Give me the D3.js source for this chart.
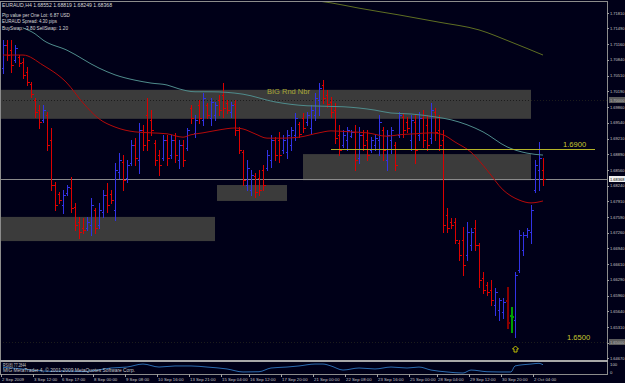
<!DOCTYPE html>
<html>
<head>
<meta charset="utf-8">
<script src="https://cdn.jsdelivr.net/npm/d3@7"></script>
<style>
  body { margin: 0; background: #000018; }
  svg { display: block; }
  text { font-family: "Liberation Sans", Arial, sans-serif; }
</style>
</head>
<body>
<svg id="chart" width="625" height="383"></svg>
<script>
// EURAUD H4, one entry per bar (bar index 0..135)
const barOpen = [
  1.7067, 1.7115, 1.7104, 1.7084, 1.7090, 1.7080, 1.7059, 1.7034, 1.7001, 1.6980,
  1.6960, 1.6970, 1.6918, 1.6825, 1.6806, 1.6784, 1.6808, 1.6819, 1.6779, 1.6748,
  1.6736, 1.6736, 1.6742, 1.6773, 1.6742, 1.6769, 1.6804, 1.6806, 1.6773, 1.6852,
  1.6873, 1.6839, 1.6871, 1.6908, 1.6877, 1.6939, 1.6970, 1.6960, 1.6912, 1.6887,
  1.6881, 1.6918, 1.6887, 1.6918, 1.6877, 1.6908, 1.6902, 1.6984, 1.6933, 1.6991,
  1.6960, 1.6991, 1.6964, 1.6970, 1.7001, 1.7011, 1.6995, 1.6976, 1.6993, 1.6939,
  1.6893, 1.6825, 1.6815, 1.6844, 1.6839, 1.6856, 1.6860, 1.6877, 1.6918, 1.6918,
  1.6897, 1.6893, 1.6908, 1.6928, 1.6951, 1.6964, 1.6955, 1.6943, 1.6970, 1.7001,
  1.7032, 1.7011, 1.6997, 1.6980, 1.6928, 1.6908, 1.6918, 1.6926, 1.6935, 1.6881,
  1.6928, 1.6918, 1.6897, 1.6908, 1.6918, 1.6939, 1.6877, 1.6918, 1.6908, 1.6928,
  1.6966, 1.6955, 1.6918, 1.6955, 1.6928, 1.6964, 1.6949, 1.6922, 1.6976, 1.6939,
  1.6918, 1.6763, 1.6748, 1.6748, 1.6705, 1.6711, 1.6680, 1.6701, 1.6736, 1.6701,
  1.6632, 1.6618, 1.6608, 1.6577, 1.6566, 1.6562, 1.6587, 1.6556, 1.6546, 1.6649,
  1.6690, 1.6721, 1.6728, 1.6815, 1.6856, 1.68552
];
const barHigh = [
  1.7125, 1.7125, 1.7125, 1.7115, 1.7094, 1.7088, 1.7069, 1.7038, 1.7005, 1.6991,
  1.6991, 1.6976, 1.6943, 1.6831, 1.6811, 1.6815, 1.6825, 1.6842, 1.6788, 1.6759,
  1.6757, 1.6759, 1.6798, 1.6777, 1.6788, 1.6815, 1.6829, 1.6815, 1.6871, 1.6891,
  1.6887, 1.6877, 1.6918, 1.6922, 1.6953, 1.6949, 1.7005, 1.6980, 1.6918, 1.6897,
  1.6928, 1.6928, 1.6928, 1.6933, 1.6918, 1.6918, 1.6943, 1.6991, 1.6970, 1.7001,
  1.7015, 1.6995, 1.7005, 1.6997, 1.7011, 1.7036, 1.7001, 1.6997, 1.7001, 1.6945,
  1.6897, 1.6877, 1.6856, 1.6850, 1.6856, 1.6866, 1.6897, 1.6928, 1.6924, 1.6935,
  1.6928, 1.6939, 1.6945, 1.6974, 1.6955, 1.6974, 1.6976, 1.6991, 1.7015, 1.7036,
  1.7042, 1.7022, 1.7007, 1.6995, 1.6949, 1.6939, 1.6945, 1.6939, 1.6949, 1.6945,
  1.6939, 1.6939, 1.6924, 1.6928, 1.6970, 1.6945, 1.6939, 1.6945, 1.6914, 1.6976,
  1.6974, 1.6966, 1.6970, 1.6970, 1.6976, 1.6980, 1.6970, 1.6995, 1.6984, 1.6970,
  1.6939, 1.6777, 1.6757, 1.6757, 1.6711, 1.6738, 1.6748, 1.6736, 1.6753, 1.6705,
  1.6645, 1.6624, 1.6628, 1.6612, 1.6591, 1.6591, 1.6614, 1.6572, 1.6645, 1.6732,
  1.6728, 1.6736, 1.6784, 1.6877, 1.6914, 1.68819
];
const barLow = [
  1.7057, 1.7084, 1.7059, 1.7080, 1.7071, 1.7046, 1.7032, 1.7007, 1.6966, 1.6943,
  1.6955, 1.6897, 1.6815, 1.6773, 1.6788, 1.6767, 1.6804, 1.6769, 1.6732, 1.6715,
  1.6726, 1.6732, 1.6721, 1.6726, 1.6736, 1.6759, 1.6769, 1.6788, 1.6753, 1.6839,
  1.6815, 1.6831, 1.6866, 1.6866, 1.6850, 1.6897, 1.6897, 1.6928, 1.6866, 1.6846,
  1.6877, 1.6866, 1.6881, 1.6873, 1.6860, 1.6864, 1.6897, 1.6953, 1.6924, 1.6953,
  1.6949, 1.6964, 1.6949, 1.6960, 1.6970, 1.6966, 1.6974, 1.6966, 1.6928, 1.6891,
  1.6825, 1.6815, 1.6804, 1.6800, 1.6804, 1.6815, 1.6856, 1.6862, 1.6877, 1.6873,
  1.6891, 1.6881, 1.6897, 1.6918, 1.6924, 1.6935, 1.6949, 1.6933, 1.6960, 1.6970,
  1.6995, 1.6986, 1.6966, 1.6912, 1.6887, 1.6904, 1.6897, 1.6924, 1.6856, 1.6871,
  1.6897, 1.6877, 1.6893, 1.6897, 1.6887, 1.6877, 1.6856, 1.6891, 1.6856, 1.6924,
  1.6924, 1.6935, 1.6897, 1.6871, 1.6918, 1.6904, 1.6897, 1.6912, 1.6918, 1.6897,
  1.6728, 1.6728, 1.6736, 1.6705, 1.6670, 1.6639, 1.6670, 1.6690, 1.6690, 1.6614,
  1.6601, 1.6597, 1.6577, 1.6556, 1.6546, 1.6550, 1.6529, 1.6521, 1.6510, 1.6645,
  1.6680, 1.6717, 1.6705, 1.6811, 1.6815, 1.68249
];
const barClose = [
  1.7115, 1.7094, 1.7073, 1.7109, 1.7078, 1.7053, 1.7038, 1.7013, 1.6976, 1.6955,
  1.6980, 1.6908, 1.6825, 1.6784, 1.6794, 1.6804, 1.6821, 1.6777, 1.6742, 1.6728,
  1.6732, 1.6748, 1.6784, 1.6736, 1.6773, 1.6804, 1.6784, 1.6794, 1.6856, 1.6877,
  1.6835, 1.6866, 1.6908, 1.6881, 1.6939, 1.6908, 1.6918, 1.6939, 1.6877, 1.6866,
  1.6918, 1.6881, 1.6918, 1.6887, 1.6908, 1.6877, 1.6939, 1.6964, 1.6960, 1.6964,
  1.7005, 1.6970, 1.6997, 1.6991, 1.6980, 1.6984, 1.6980, 1.6991, 1.6939, 1.6897,
  1.6835, 1.6860, 1.6846, 1.6811, 1.6815, 1.6825, 1.6887, 1.6918, 1.6887, 1.6887,
  1.6918, 1.6928, 1.6939, 1.6964, 1.6931, 1.6943, 1.6970, 1.6980, 1.7005, 1.7026,
  1.7005, 1.6993, 1.6976, 1.6922, 1.6897, 1.6928, 1.6939, 1.6935, 1.6877, 1.6928,
  1.6908, 1.6887, 1.6918, 1.6922, 1.6955, 1.6897, 1.6928, 1.6939, 1.6866, 1.6970,
  1.6939, 1.6943, 1.6960, 1.6897, 1.6964, 1.6918, 1.6908, 1.6980, 1.6935, 1.6908,
  1.6742, 1.6736, 1.6742, 1.6711, 1.6680, 1.6659, 1.6728, 1.6728, 1.6701, 1.6628,
  1.6608, 1.6604, 1.6587, 1.6604, 1.6587, 1.6583, 1.6541, 1.6554, 1.6639, 1.6721,
  1.6721, 1.6732, 1.6773, 1.6866, 1.6881, 1.68368
];

// moving averages, [bar index, price]
const maFast = [[0,1.7094],[5,1.7094],[10,1.7073],[16,1.7036],[20,1.6995],[24,1.6962],[28,1.6945],
  [33,1.6935],[37,1.6933],[41,1.6931],[45,1.6924],[47,1.6929],[50,1.6933],[54,1.6939],[58,1.6943],
  [60,1.6941],[63,1.6931],[66,1.6922],[70,1.6922],[74,1.6924],[79,1.6933],[82,1.6937],[87,1.6935],
  [91,1.6933],[96,1.6926],[99,1.6929],[103,1.6931],[107,1.6933],[110,1.6929],[113,1.6914],
  [117,1.6893],[121,1.6856],[125,1.6815],[129,1.6794],[132,1.6788],[135,1.6792]];
const maMid = [[5,1.7150],[8,1.7138],[10,1.7125],[16,1.7104],[24,1.7067],[28,1.7053],[33,1.7042],
  [37,1.7036],[41,1.7032],[44,1.7024],[48,1.7018],[52,1.7018],[60,1.7013],[68,1.6997],[76,1.6989],
  [85,1.6987],[93,1.6980],[97,1.6974],[102,1.6972],[108,1.6966],[112,1.6960],[120,1.6935],
  [126,1.6904],[131,1.6891],[135,1.6887]];
const maSlow = [[77,1.7208],[82,1.7202],[89,1.7191],[99,1.7177],[109,1.7162],[119,1.7146],
  [127,1.7121],[135,1.7094]];

// RSI(8), [bar index, value]
const rsi = [[0,55],[4,45],[8,30],[12,22],[16,25],[20,20],[24,35],[27,50],[31,58],[35,83],[39,58],
  [43,67],[47,67],[51,58],[56,42],[60,17],[64,19],[67,50],[71,58],[74,67],[78,83],[80,83],[82,67],
  [85,33],[89,50],[93,42],[97,58],[101,50],[104,58],[107,33],[111,17],[115,8],[117,33],[121,19],
  [124,17],[127,17],[128,67],[132,83],[134,89],[135,77]];

// drawn zones (bar index range, price range)
const zoneStart = [-1, -1, 53.5, 75];
const zoneEnd = [132, 53, 71, 132];
const zoneTop = [1.7022, 1.6759, 1.6825, 1.6889];
const zoneBottom = [1.6962, 1.6709, 1.6792, 1.6835];

const hLines = [1.7000, 1.6500];
const trendPrice = 1.6900, trendFrom = 82, trendTo = 148;
const labelText = ['BIG Rnd Nbr', '1.6900', '1.6500'];
const labelIndex = [66, 140, 141];
const labelPrice = [1.7013, 1.6903, 1.6505];
const arrowIndex = 128, arrowPrice = 1.6492;

const priceTicks = [1.71810, 1.71490, 1.71160, 1.70840, 1.70510, 1.70190, 1.69860, 1.69540,
  1.69210, 1.68890, 1.68560, 1.68240, 1.67910, 1.67590, 1.67260, 1.66940, 1.66610, 1.66290,
  1.65960, 1.65640, 1.65310, 1.64990, 1.64670];
const timeLabels = ['2 Sep 2009', '3 Sep 12:00', '6 Sep 17:00', '8 Sep 00:00', '9 Sep 08:00',
  '10 Sep 16:00', '13 Sep 21:00', '15 Sep 04:00', '16 Sep 12:00', '17 Sep 20:00', '21 Sep 00:00',
  '22 Sep 08:00', '23 Sep 16:00', '25 Sep 00:00', '28 Sep 04:00', '29 Sep 12:00', '30 Sep 20:00',
  '2 Oct 04:00'];
const timeIndex = [0, 8, 15, 23, 31, 39, 47, 55, 62, 70, 78, 86, 94, 102, 109, 117, 125, 133];

const headerLines = ['EURAUD,H4  1.68552 1.68819 1.68249 1.68368', 'Pip value per One Lot: 6.87 USD',
  'EURAUD Spread: 4.30 pips', 'BuySwap: -3.80   SellSwap: 1.20'];

const svg = d3.select('#chart');
const W = 625, H = 383;
const plotRight = 607, plotTop = 2, plotBottom = 360;
const rsiTop = 362, rsiBottom = 374;

const x = d3.scaleLinear().domain([0, 135]).range([3, 543]);
const y = d3.scaleLinear().domain([1.71810, 1.64670]).range([13, 358]);
const yRsi = d3.scaleLinear().domain([0, 100]).range([rsiBottom, rsiTop]);
const px = (v) => Math.round(v) + 0.5;

svg.append('rect').attr('width', W).attr('height', H).attr('fill', '#000018');

const defs = svg.append('defs');
defs.append('clipPath').attr('id', 'plot')
  .append('rect').attr('x', 1).attr('y', plotTop).attr('width', plotRight - 1).attr('height', plotBottom - plotTop);
defs.append('clipPath').attr('id', 'rsiclip')
  .append('rect').attr('x', 1).attr('y', rsiTop).attr('width', plotRight - 1).attr('height', rsiBottom - rsiTop);

const plot = svg.append('g').attr('clip-path', 'url(#plot)');

// zones
plot.selectAll('rect.zone')
  .data(zoneStart)
  .join('rect')
  .attr('class', 'zone')
  .attr('x', (d) => Math.max(0, x(d)))
  .attr('width', (d, i) => x(zoneEnd[i]) - Math.max(0, x(d)))
  .attr('y', (d, i) => y(zoneTop[i]))
  .attr('height', (d, i) => y(zoneBottom[i]) - y(zoneTop[i]))
  .attr('fill', '#3b3b3b');

// horizontal line objects (dotted)
plot.selectAll('line.hline')
  .data(hLines)
  .join('line')
  .attr('x1', 0).attr('x2', plotRight)
  .attr('y1', (d) => px(y(d))).attr('y2', (d) => px(y(d)))
  .attr('stroke', '#1c1c1c')
  .attr('stroke-dasharray', '1,2');

// current price line
plot.append('line')
  .attr('x1', 0).attr('x2', plotRight)
  .attr('y1', px(y(barClose[barClose.length - 1])))
  .attr('y2', px(y(barClose[barClose.length - 1])))
  .attr('stroke', '#8a8a8a')
  .attr('shape-rendering', 'crispEdges');

// OHLC bars
const special = { 126: '#8a0000', 127: '#00a000' };
plot.selectAll('path.bar')
  .data(barOpen)
  .join('path')
  .attr('class', 'bar')
  .attr('shape-rendering', 'crispEdges')
  .attr('stroke-width', (d, i) => (special[i] ? 2 : 1))
  .attr('stroke', (d, i) => special[i] || (barClose[i] >= d ? '#3232e6' : '#dc0000'))
  .attr('d', (d, i) => {
    const cx = px(x(i));
    const yo = px(y(d)), yc = px(y(barClose[i]));
    return `M${cx},${Math.round(y(barHigh[i]))}V${Math.round(y(barLow[i])) + 1}` +
      `M${cx - 2},${yo}H${cx}M${cx},${yc}H${cx + 2}`;
  });

// moving averages
const maLine = d3.line()
  .x((d) => x(d[0]))
  .y((d) => y(d[1]))
  .curve(d3.curveMonotoneX);

plot.append('path').attr('d', maLine(maSlow)).attr('fill', 'none').attr('stroke', '#5e6e22');
plot.append('path').attr('d', maLine(maMid)).attr('fill', 'none').attr('stroke', '#4f8c8c');
plot.append('path').attr('d', maLine(maFast)).attr('fill', 'none').attr('stroke', '#b40a0a');

// trend line at 1.6900
plot.append('line')
  .attr('x1', x(trendFrom)).attr('x2', x(trendTo))
  .attr('y1', px(y(trendPrice))).attr('y2', px(y(trendPrice)))
  .attr('stroke', '#b4b428')
  .attr('shape-rendering', 'crispEdges');

// text objects
plot.selectAll('text.obj')
  .data(labelText)
  .join('text')
  .attr('class', 'obj')
  .attr('x', (d, i) => x(labelIndex[i]))
  .attr('y', (d, i) => y(labelPrice[i]))
  .attr('font-size', (d, i) => (i === 0 ? 7.5 : 7.6))
  .attr('fill', (d, i) => (i === 0 ? '#a8a838' : '#c8c830'))
  .text((d) => d);

// arrow below the low
const ax = px(x(arrowIndex)), ay = Math.round(y(arrowPrice));
plot.append('path')
  .attr('d', `M${ax},${ay}L${ax + 3},${ay + 3}H${ax + 1.5}V${ay + 6}H${ax - 1.5}V${ay + 3}H${ax - 3}Z`)
  .attr('fill', 'none')
  .attr('stroke', '#d0d000')
  .attr('stroke-width', 0.9);

// header info
svg.selectAll('text.head')
  .data(headerLines)
  .join('text')
  .attr('class', 'head')
  .attr('x', 2)
  .attr('y', (d, i) => [7, 16.5, 22.5, 29.5][i])
  .attr('font-size', 5.4)
  .attr('fill', '#d8d8d8')
  .attr('textLength', (d, i) => [110, 68, 55, 66][i])
  .attr('lengthAdjust', 'spacingAndGlyphs')
  .text((d) => d);

// RSI sub window
const rsiG = svg.append('g').attr('clip-path', 'url(#rsiclip)');
rsiG.append('path')
  .attr('d', d3.line().x((d) => x(d[0])).y((d) => yRsi(d[1])).curve(d3.curveMonotoneX)(rsi))
  .attr('fill', 'none')
  .attr('stroke', '#2c6cb0');

svg.append('text').attr('x', 3).attr('y', 367).attr('font-size', 4.6).attr('fill', '#c8c8c8')
  .attr('textLength', 23).attr('lengthAdjust', 'spacingAndGlyphs')
  .text('RSI(8) 77.2844');
svg.append('text').attr('x', 3).attr('y', 372).attr('font-size', 4.6).attr('fill', '#c8c8c8')
  .attr('textLength', 132).attr('lengthAdjust', 'spacingAndGlyphs')
  .text('MIG MetaTrader 4, © 2001-2009 MetaQuotes Software Corp.');

// frame
const frame = svg.append('g').attr('shape-rendering', 'crispEdges').attr('fill', 'none');
frame.append('path')
  .attr('d', `M0.5,${rsiBottom + 0.5}V1.5H${plotRight + 0.5}V${rsiBottom + 0.5}H0.5`)
  .attr('stroke', '#8c8c8c');
frame.append('rect').attr('x', 0).attr('y', plotBottom).attr('width', plotRight + 1).attr('height', 2)
  .attr('fill', '#a8a8a8');

// price axis
const axisFont = 4.3;
const yAxis = svg.append('g').attr('font-size', axisFont).attr('fill', '#c8c8c8');
yAxis.selectAll('line')
  .data(priceTicks)
  .join('line')
  .attr('x1', plotRight).attr('x2', plotRight + 2)
  .attr('y1', (d) => px(y(d))).attr('y2', (d) => px(y(d)))
  .attr('stroke', '#a0a0a0')
  .attr('shape-rendering', 'crispEdges');
yAxis.selectAll('text')
  .data(priceTicks)
  .join('text')
  .attr('x', plotRight + 3)
  .attr('y', (d) => y(d) + 1.6)
  .attr('textLength', 14.5)
  .attr('lengthAdjust', 'spacingAndGlyphs')
  .text((d) => d3.format('.5f')(d));

// highlighted price labels: line objects and current price
const boxes = [
  { v: 1.70000, bg: '#5c5c5c', fg: '#b8b8b8' },
  { v: barClose[barClose.length - 1], bg: '#f0f0f0', fg: '#000000' },
  { v: 1.65000, bg: '#5c5c5c', fg: '#b8b8b8' },
];
boxes.forEach((b) => {
  const by = y(b.v);
  svg.append('rect').attr('x', plotRight + 2).attr('y', Math.round(by) - 3).attr('width', 16).attr('height', 6)
    .attr('fill', b.bg);
  svg.append('text').attr('x', plotRight + 3).attr('y', by + 1.6).attr('font-size', axisFont).attr('fill', b.fg)
    .attr('textLength', 14.5).attr('lengthAdjust', 'spacingAndGlyphs')
    .text(d3.format('.5f')(b.v));
});

// RSI axis
svg.append('text').attr('x', plotRight + 3).attr('y', 366).attr('font-size', axisFont).attr('fill', '#c8c8c8').text('100');
svg.append('text').attr('x', plotRight + 3).attr('y', 374).attr('font-size', axisFont).attr('fill', '#c8c8c8').text('0');

// time axis
const tAxis = svg.append('g').attr('font-size', 4.3).attr('fill', '#c8c8c8');
tAxis.selectAll('line')
  .data(timeIndex)
  .join('line')
  .attr('x1', (d) => px(x(d) - 2)).attr('x2', (d) => px(x(d) - 2))
  .attr('y1', rsiBottom).attr('y2', rsiBottom + 3)
  .attr('stroke', '#a0a0a0')
  .attr('shape-rendering', 'crispEdges');
tAxis.selectAll('text')
  .data(timeLabels)
  .join('text')
  .attr('x', (d, i) => x(timeIndex[i]) - 1)
  .attr('y', 381)
  .text((d) => d);
</script>
</body>
</html>
